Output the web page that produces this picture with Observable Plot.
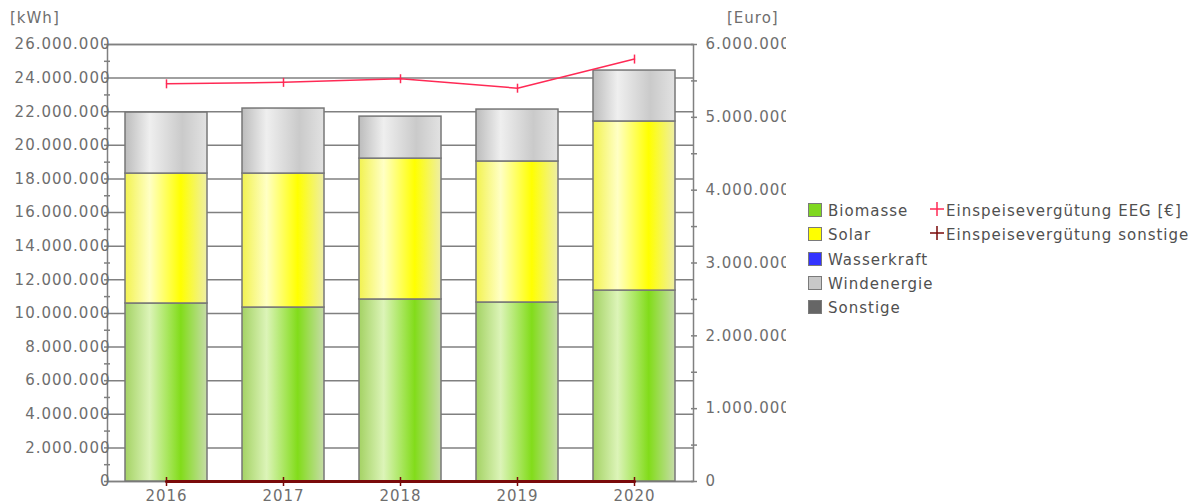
<!DOCTYPE html>
<html>
<head>
<meta charset="utf-8">
<script src="https://cdn.jsdelivr.net/npm/d3@7"></script>
<script src="https://cdn.jsdelivr.net/npm/@observablehq/plot@0.6"></script>
<style>
  html, body { margin: 0; padding: 0; background: #fff; }
  body { width: 1194px; height: 504px; position: relative; overflow: hidden;
         font-family: "DejaVu Sans", sans-serif; font-size: 15px; color: #6e6e6e; letter-spacing: 1px; }
  #chart { position: absolute; left: 0; top: 0; }
  .unit { position: absolute; top: 9px; line-height: 18px; }
  .leg { position: absolute; line-height: 18px; white-space: nowrap; color: #505050; }
  .sw { position: absolute; width: 12px; height: 12px; border: 1px solid #7a7a7a; }
  .cross { position: absolute; width: 14px; height: 14px; }
  #chart svg text { font-size: 15px; letter-spacing: 1px; }
</style>
</head>
<body>
<svg width="0" height="0" style="position:absolute">
  <defs>
    <linearGradient id="gBio" x1="0" x2="1" y1="0" y2="0">
      <stop offset="0" stop-color="#a4d264"/>
      <stop offset="0.3" stop-color="#dcf4b8"/>
      <stop offset="0.68" stop-color="#82dc1a"/>
      <stop offset="1" stop-color="#c6dca8"/>
    </linearGradient>
    <linearGradient id="gSol" x1="0" x2="1" y1="0" y2="0">
      <stop offset="0" stop-color="#f2f250"/>
      <stop offset="0.3" stop-color="#ffffc4"/>
      <stop offset="0.68" stop-color="#ffff00"/>
      <stop offset="1" stop-color="#eeeea6"/>
    </linearGradient>
    <linearGradient id="gWas" x1="0" x2="1" y1="0" y2="0">
      <stop offset="0" stop-color="#3030ff"/>
      <stop offset="0.3" stop-color="#8080ff"/>
      <stop offset="1" stop-color="#2020f0"/>
    </linearGradient>
    <linearGradient id="gWin" x1="0" x2="1" y1="0" y2="0">
      <stop offset="0" stop-color="#bcbcbc"/>
      <stop offset="0.3" stop-color="#efefef"/>
      <stop offset="0.7" stop-color="#cacaca"/>
      <stop offset="1" stop-color="#e2e2e2"/>
    </linearGradient>
    <linearGradient id="gSon" x1="0" x2="1" y1="0" y2="0">
      <stop offset="0" stop-color="#5a5a5a"/>
      <stop offset="0.3" stop-color="#8a8a8a"/>
      <stop offset="1" stop-color="#606060"/>
    </linearGradient>
  </defs>
</svg>
<div id="chart"></div>
<div class="unit" style="left:10px">[kWh]</div>
<div class="unit" style="left:727px">[Euro]</div>
<div id="legend"></div>
<script>
// ---- data ----
const years = ["2016", "2017", "2018", "2019", "2020"];
const seriesNames = ["Biomasse", "Solar", "Wasserkraft", "Windenergie", "Sonstige"];
const biomasse    = [10590000, 10350000, 10830000, 10650000, 11360000];
const solar       = [7730000, 7970000, 8380000, 8390000, 10060000];
const wasserkraft = [0, 0, 0, 0, 0];
const windenergie = [3630000, 3870000, 2500000, 3090000, 3030000];
const sonstige    = [0, 0, 0, 0, 0];
const eegEuro      = [5460000, 5480000, 5530000, 5400000, 5800000];
const sonstigeEuro = [0, 0, 0, 0, 0];
const leftTicks  = [0, 2e6, 4e6, 6e6, 8e6, 10e6, 12e6, 14e6, 16e6, 18e6, 20e6, 22e6, 24e6, 26e6];
const rightTicks = [0, 1e6, 2e6, 3e6, 4e6, 5e6, 6e6];
const lineNames = ["Einspeisevergütung EEG [€]", "Einspeisevergütung sonstige"];

const swatchColors = ["#80d820", "#ffff00", "#3333ff", "#c8c8c8", "#666666"];
const gradUrls = ["url(#gBio)", "url(#gSol)", "url(#gWas)", "url(#gWin)", "url(#gSon)"];
const lineColors = ["#ff2a55", "#7a0a0a"];

const seriesValues = [biomasse, solar, wasserkraft, windenergie, sonstige];
const barData = [];
seriesNames.forEach((s, i) => years.forEach((y, j) => barData.push({year: y, series: s, value: seriesValues[i][j]})));
const k = 26 / 6; // euro -> kWh axis ratio
const eegData = years.map((y, j) => ({year: y, value: eegEuro[j] * k}));
const sonData = years.map((y, j) => ({year: y, value: sonstigeEuro[j] * k}));

const fmt = d3.formatLocale({decimal: ",", thousands: ".", grouping: [3], currency: ["", "€"]}).format(",d");
const vtick = {draw(ctx, size) { const r = Math.sqrt(size / Math.PI); ctx.moveTo(0, -r); ctx.lineTo(0, r); }};
const minorLeft = d3.range(1e6, 26e6, 2e6);
const minorRight = d3.range(0.5e6, 6e6, 1e6).map(d => d * k);
const axisColor = "#808080";
const textColor = "#6e6e6e";

const chart = Plot.plot({
  width: 786, height: 504,
  marginLeft: 107, marginRight: 93, marginTop: 44, marginBottom: 23,
  style: {fontFamily: "DejaVu Sans", fontSize: "15px", letterSpacing: "1px", color: textColor, background: "transparent", overflow: "hidden"},
  x: {type: "band", domain: years, paddingInner: 0.3, paddingOuter: 0.15},
  y: {domain: [0, 26e6]},
  color: {type: "ordinal", domain: seriesNames, range: gradUrls},
  marks: [
    Plot.ruleY(leftTicks, {stroke: axisColor, strokeWidth: 1.5}),
    Plot.frame({stroke: axisColor, strokeWidth: 1.5}),
    Plot.barY(barData, Plot.stackY({x: "year", y: "value", fill: "series", order: seriesNames, stroke: "#777", strokeWidth: 1.5})),
    Plot.axisY(leftTicks, {anchor: "left", tickSize: 3, tickPadding: -6, tickFormat: fmt, stroke: axisColor, fill: textColor, strokeWidth: 1.5, label: null}),
    Plot.axisY(minorLeft, {anchor: "left", tickSize: 6, dx: 3, tickFormat: () => "", stroke: axisColor, strokeWidth: 1.5, label: null}),
    Plot.axisY(rightTicks.map(d => d * k), {anchor: "right", tickSize: 6, dx: -3, tickPadding: 9, tickFormat: d => fmt(Math.round(d / k)), stroke: axisColor, fill: textColor, strokeWidth: 1.5, label: null}),
    Plot.axisY(minorRight, {anchor: "right", tickSize: 6, dx: -3, tickFormat: () => "", stroke: axisColor, strokeWidth: 1.5, label: null}),
    Plot.axisX({anchor: "bottom", tickSize: 0, tickPadding: 9, fill: textColor, label: null}),
    Plot.line(sonData, {x: "year", y: "value", stroke: lineColors[1], strokeWidth: 3}),
    Plot.dot(sonData, {x: "year", y: "value", symbol: vtick, r: 4.5, stroke: lineColors[1], strokeWidth: 1.5}),
    Plot.line(eegData, {x: "year", y: "value", stroke: lineColors[0], strokeWidth: 1.5}),
    Plot.dot(eegData, {x: "year", y: "value", symbol: vtick, r: 4.5, stroke: lineColors[0], strokeWidth: 1.5})
  ]
});
document.getElementById("chart").appendChild(chart);

// ---- legend ----
const legend = document.getElementById("legend");
const rowY = [210, 234, 259, 283, 307];
seriesNames.forEach((s, i) => {
  const sw = document.createElement("div");
  sw.className = "sw";
  sw.style.left = "808px"; sw.style.top = (rowY[i] - 7) + "px"; sw.style.background = swatchColors[i];
  legend.appendChild(sw);
  const t = document.createElement("div");
  t.className = "leg"; t.textContent = s;
  t.style.left = "828px"; t.style.top = (rowY[i] - 8) + "px";
  legend.appendChild(t);
});
lineNames.forEach((s, i) => {
  const c = document.createElementNS("http://www.w3.org/2000/svg", "svg");
  c.setAttribute("class", "cross");
  c.setAttribute("viewBox", "0 0 14 14");
  c.style.left = "930px"; c.style.top = (rowY[i] - 8) + "px";
  c.innerHTML = `<path d="M0,7H14M7,0V14" stroke="${lineColors[i]}" stroke-width="1.5" fill="none"/>`;
  legend.appendChild(c);
  const t = document.createElement("div");
  t.className = "leg"; t.textContent = s;
  t.style.left = "946px"; t.style.top = (rowY[i] - 8) + "px";
  legend.appendChild(t);
});
</script>
</body>
</html>
